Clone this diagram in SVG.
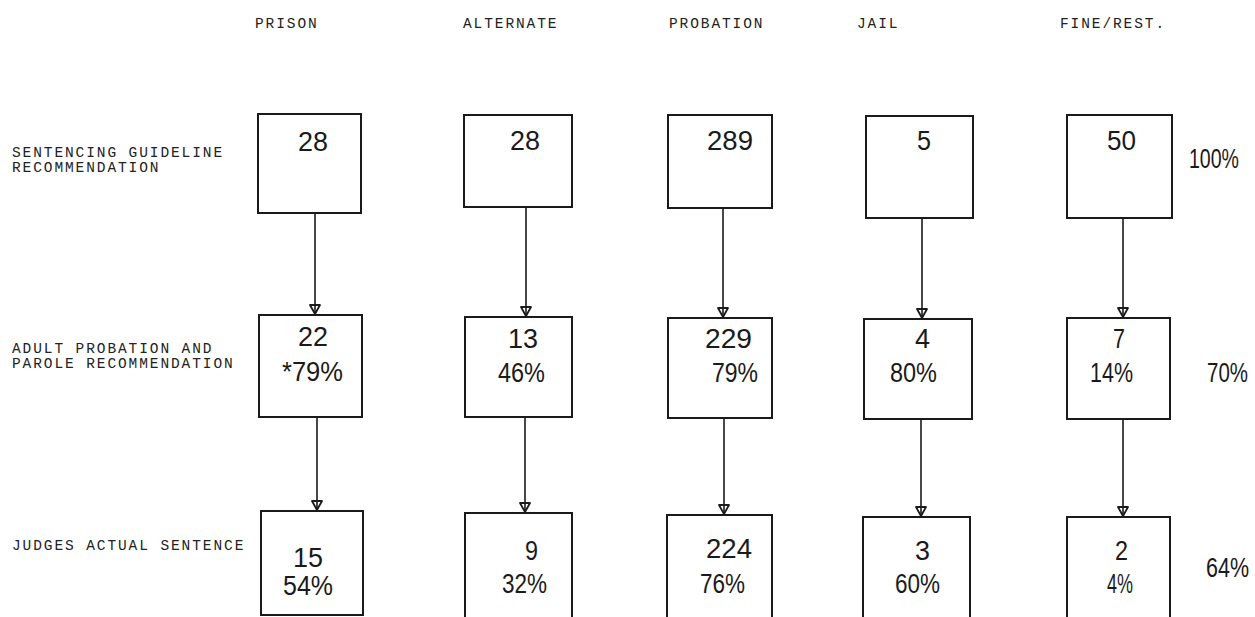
<svg xmlns="http://www.w3.org/2000/svg" width="1255" height="617" viewBox="0 0 1255 617">
<style>
.hd{font-family:"Liberation Mono","DejaVu Sans Mono",monospace;font-size:14.5px;fill:#222;letter-spacing:1.9px}
.num{font-family:"Liberation Sans",Arial,sans-serif;font-size:27px;fill:#1a1a1a}
.pc{font-family:"Liberation Sans",Arial,sans-serif;font-size:23px;fill:#1a1a1a}
.bx{fill:none;stroke:#1a1a1a;stroke-width:2}
.cn{stroke:#1a1a1a;stroke-width:1.6;fill:none;marker-end:url(#ah)}
</style>
<defs>
<marker id="ah" markerUnits="userSpaceOnUse" markerWidth="14" markerHeight="14" viewBox="-11 -7 12 14" refX="0" refY="0" orient="auto">
<path d="M-9,-5 L-9,5 L0,0 Z" fill="none" stroke="#1a1a1a" stroke-width="1.8" stroke-linejoin="round"/>
</marker>
</defs>
<rect width="1255" height="617" fill="#fff"/>

<g id="headers">
<text class="hd" x="255" y="28">PRISON</text>
<text class="hd" x="463" y="28">ALTERNATE</text>
<text class="hd" x="669" y="28">PROBATION</text>
<text class="hd" x="857" y="28">JAIL</text>
<text class="hd" x="1060" y="28">FINE/REST.</text>
</g>

<g id="row-labels">
<text class="hd" x="12" y="157">SENTENCING GUIDELINE</text>
<text class="hd" x="12" y="172">RECOMMENDATION</text>
<text class="hd" x="12" y="353">ADULT PROBATION AND</text>
<text class="hd" x="12" y="368">PAROLE RECOMMENDATION</text>
<text class="hd" x="12" y="550">JUDGES ACTUAL SENTENCE</text>
</g>

<g id="connectors">
<line class="cn" x1="315" y1="213" x2="315" y2="314"/>
<line class="cn" x1="317" y1="417" x2="317" y2="510"/>
<line class="cn" x1="526" y1="207" x2="526" y2="316"/>
<line class="cn" x1="525" y1="417" x2="525" y2="512"/>
<line class="cn" x1="723" y1="208" x2="723" y2="317"/>
<line class="cn" x1="724" y1="418" x2="724" y2="514"/>
<line class="cn" x1="922" y1="218" x2="922" y2="318"/>
<line class="cn" x1="921" y1="419" x2="921" y2="516"/>
<line class="cn" x1="1123" y1="218" x2="1123" y2="317"/>
<line class="cn" x1="1123" y1="419" x2="1123" y2="516"/>
</g>

<g id="sg-prison"><rect class="bx" x="258" y="114" width="103" height="99"/><text class="num" x="298" y="151" textLength="30" lengthAdjust="spacingAndGlyphs">28</text></g>
<g id="sg-alternate"><rect class="bx" x="464" y="115" width="108" height="92"/><text class="num" x="510" y="150" textLength="30" lengthAdjust="spacingAndGlyphs">28</text></g>
<g id="sg-probation"><rect class="bx" x="668" y="115" width="104" height="93"/><text class="num" x="707" y="150" textLength="46" lengthAdjust="spacingAndGlyphs">289</text></g>
<g id="sg-jail"><rect class="bx" x="866" y="116" width="107" height="102"/><text class="num" x="917" y="150" textLength="14" lengthAdjust="spacingAndGlyphs">5</text></g>
<g id="sg-fine"><rect class="bx" x="1067" y="115" width="105" height="103"/><text class="num" x="1107" y="150" textLength="29" lengthAdjust="spacingAndGlyphs">50</text></g>
<g id="sg-total"><text class="pc" transform="translate(1189,168) scale(1,1.18)" textLength="50" lengthAdjust="spacingAndGlyphs">100%</text></g>

<g id="ap-prison"><rect class="bx" x="259" y="315" width="103" height="102"/><text class="num" x="298" y="346" textLength="30" lengthAdjust="spacingAndGlyphs">22</text><text class="num" x="282" y="381" textLength="61" lengthAdjust="spacingAndGlyphs">*79%</text></g>
<g id="ap-alternate"><rect class="bx" x="465" y="317" width="107" height="100"/><text class="num" x="508" y="348" textLength="30" lengthAdjust="spacingAndGlyphs">13</text><text class="num" x="498" y="382" textLength="47" lengthAdjust="spacingAndGlyphs">46%</text></g>
<g id="ap-probation"><rect class="bx" x="668" y="318" width="104" height="100"/><text class="num" x="705" y="348" textLength="47" lengthAdjust="spacingAndGlyphs">229</text><text class="num" x="712" y="382" textLength="46" lengthAdjust="spacingAndGlyphs">79%</text></g>
<g id="ap-jail"><rect class="bx" x="864" y="319" width="108" height="100"/><text class="num" x="915" y="348" textLength="15" lengthAdjust="spacingAndGlyphs">4</text><text class="num" x="890" y="382" textLength="47" lengthAdjust="spacingAndGlyphs">80%</text></g>
<g id="ap-fine"><rect class="bx" x="1067" y="318" width="103" height="101"/><text class="num" x="1113" y="348" textLength="12" lengthAdjust="spacingAndGlyphs">7</text><text class="num" x="1090" y="382" textLength="43" lengthAdjust="spacingAndGlyphs">14%</text></g>
<g id="ap-total"><text class="pc" transform="translate(1207,382) scale(1,1.18)" textLength="41" lengthAdjust="spacingAndGlyphs">70%</text></g>

<g id="ja-prison"><rect class="bx" x="261" y="511" width="102" height="104"/><text class="num" x="293" y="567" textLength="30" lengthAdjust="spacingAndGlyphs">15</text><text class="num" x="283" y="595" textLength="50" lengthAdjust="spacingAndGlyphs">54%</text></g>
<g id="ja-alternate"><rect class="bx" x="465" y="513" width="107" height="120"/><text class="num" x="525" y="560" textLength="13" lengthAdjust="spacingAndGlyphs">9</text><text class="num" x="502" y="593" textLength="45" lengthAdjust="spacingAndGlyphs">32%</text></g>
<g id="ja-probation"><rect class="bx" x="667" y="515" width="105" height="120"/><text class="num" x="706" y="558" textLength="46" lengthAdjust="spacingAndGlyphs">224</text><text class="num" x="700" y="593" textLength="45" lengthAdjust="spacingAndGlyphs">76%</text></g>
<g id="ja-jail"><rect class="bx" x="863" y="517" width="107" height="120"/><text class="num" x="915" y="560" textLength="15" lengthAdjust="spacingAndGlyphs">3</text><text class="num" x="895" y="593" textLength="45" lengthAdjust="spacingAndGlyphs">60%</text></g>
<g id="ja-fine"><rect class="bx" x="1067" y="517" width="103" height="120"/><text class="num" x="1115" y="560" textLength="13" lengthAdjust="spacingAndGlyphs">2</text><text class="num" x="1107" y="593" textLength="26" lengthAdjust="spacingAndGlyphs">4%</text></g>
<g id="ja-total"><text class="pc" transform="translate(1206,577) scale(1,1.18)" textLength="43" lengthAdjust="spacingAndGlyphs">64%</text></g>
</svg>
